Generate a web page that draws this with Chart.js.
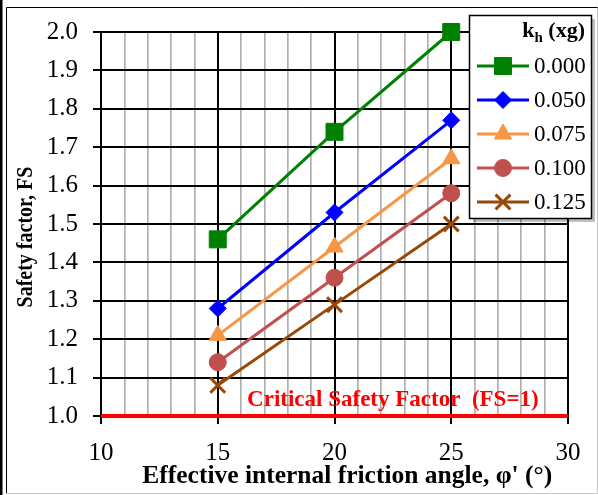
<!DOCTYPE html>
<html>
<head>
<meta charset="utf-8">
<script src="https://cdn.jsdelivr.net/npm/chart.js@4.4.1/dist/chart.umd.min.js"></script>
<style>
  html, body { margin: 0; padding: 0; background: #fff; }
  #wrap { width: 598px; height: 495px; position: relative; }
</style>
</head>
<body>
<div id="wrap"><canvas id="fsChart" width="598" height="495"></canvas></div>
<script>
// friction angle (deg) on x, safety factor on y
const frictionAngles = [15, 20, 25];
const khLabels = ['0.000', '0.050', '0.075', '0.100', '0.125'];
const fsKh000 = [1.46, 1.74, 2.00];
const fsKh050 = [1.28, 1.53, 1.77];
const fsKh075 = [1.21, 1.44, 1.67];
const fsKh100 = [1.14, 1.36, 1.58];
const fsKh125 = [1.08, 1.29, 1.50];
const criticalX = [10, 30];
const criticalY = [1.0, 1.0];
const xTicks = [10, 15, 20, 25, 30];

const seriesValues = [fsKh000, fsKh050, fsKh075, fsKh100, fsKh125];
const seriesColors = ['#008000', '#0000FF', '#F79646', '#C0504D', '#984807'];
const seriesPoints = [
    { style: 'rect', radius: 12 },
    { style: 'rectRot', radius: 8.5 },
    { style: 'triangle', radius: 10 },
    { style: 'circle', radius: 8.5 },
    { style: 'crossRot', radius: 10.5 }
];

const toXY = (xs, ys) => xs.map((x, i) => ({ x: x, y: ys[i] }));

const datasets = seriesValues.map((vals, i) => ({
    label: khLabels[i],
    data: toXY(frictionAngles, vals),
    borderColor: seriesColors[i],
    backgroundColor: seriesColors[i],
    borderWidth: 3,
    pointStyle: seriesPoints[i].style,
    pointRadius: seriesPoints[i].radius,
    pointBorderWidth: seriesPoints[i].style === 'crossRot' ? 3 : 1,
    pointHoverRadius: seriesPoints[i].radius,
    clip: false,
    order: 1
}));

datasets.unshift({
    label: 'critical',
    data: toXY(criticalX, criticalY),
    borderColor: '#FF0000',
    borderWidth: 4,
    pointRadius: 0,
    clip: false,
    order: 2
});

Chart.defaults.font.family = "'Liberation Serif', 'Times New Roman', serif";
Chart.defaults.color = '#000';

const framePlugin = {
    id: 'frame',
    beforeDraw(chart) {
        const c = chart.ctx;
        c.save();
        c.fillStyle = '#fff';
        c.fillRect(0, 0, chart.width, chart.height);
        c.fillStyle = '#000';
        c.fillRect(0, 0, 2.5, chart.height);
        c.lineWidth = 1;
        c.strokeStyle = '#000';
        c.beginPath();
        c.moveTo(6.5, 493);
        c.lineTo(6.5, 7.5);
        c.lineTo(598, 7.5);
        c.stroke();
        c.strokeStyle = '#c8c8c8';
        c.beginPath();
        c.moveTo(6.5, 493.5);
        c.lineTo(597.5, 493.5);
        c.lineTo(597.5, 7.5);
        c.stroke();
        c.restore();
    }
};

// y axis title, drawn a little below the plot centre as in the original
const yTitlePlugin = {
    id: 'yTitle',
    afterDraw(chart) {
        const c = chart.ctx;
        const a = chart.chartArea;
        c.save();
        c.translate(26, (a.top + a.bottom) / 2 + 13);
        c.rotate(-Math.PI / 2);
        c.scale(1, 1.12);
        c.font = "bold 20px 'Liberation Serif'";
        c.fillStyle = '#000';
        c.textAlign = 'center';
        c.textBaseline = 'middle';
        c.fillText('Safety factor, FS', 0, 0);
        c.restore();
    }
};

const criticalLabelPlugin = {
    id: 'criticalLabel',
    afterDatasetsDraw(chart) {
        const c = chart.ctx;
        const xs = chart.scales.x, ys = chart.scales.y;
        c.save();
        c.font = "bold 23px 'Liberation Serif'";
        c.fillStyle = '#FF0000';
        c.textAlign = 'center';
        c.textBaseline = 'alphabetic';
        c.fillText('Critical Safety Factor  (FS=1)', xs.getPixelForValue(22.5), ys.getPixelForValue(1.0) - 10);
        c.restore();
    }
};

const legendPlugin = {
    id: 'boxLegend',
    afterDraw(chart) {
        const c = chart.ctx;
        const bx = 469, by = 15, bw = 122, bh = 203;
        c.save();
        c.fillStyle = 'rgba(0,0,0,0.25)';
        c.fillRect(bx + 4, by + 4, bw, bh);
        c.fillStyle = '#fff';
        c.fillRect(bx, by, bw, bh);
        c.strokeStyle = '#000';
        c.lineWidth = 1.5;
        c.strokeRect(bx + 0.5, by + 0.5, bw, bh);

        // title k_h (xg), right aligned
        c.fillStyle = '#000';
        c.textBaseline = 'alphabetic';
        c.textAlign = 'left';
        const right = 585;
        c.font = "bold 22px 'Liberation Serif'";
        const wTail = c.measureText(' (xg)').width;
        const wK = c.measureText('k').width;
        c.font = "bold 15px 'Liberation Serif'";
        const wH = c.measureText('h').width;
        let tx = right - wTail - wH - wK;
        c.font = "bold 22px 'Liberation Serif'";
        c.fillText('k', tx, 37);
        c.font = "bold 15px 'Liberation Serif'";
        c.fillText('h', tx + wK, 42);
        c.font = "bold 22px 'Liberation Serif'";
        c.fillText(' (xg)', tx + wK + wH, 37);

        const items = chart.data.datasets.filter(d => d.label !== 'critical');
        c.font = "23px 'Liberation Serif'";
        c.textBaseline = 'middle';
        items.forEach((d, i) => {
            const y = 66 + i * 34;
            c.strokeStyle = d.borderColor;
            c.fillStyle = d.backgroundColor;
            c.lineWidth = 3;
            c.beginPath();
            c.moveTo(477, y);
            c.lineTo(529, y);
            c.stroke();
            c.lineWidth = d.pointBorderWidth;
            Chart.helpers.drawPoint(c, {
                pointStyle: d.pointStyle,
                radius: d.pointRadius,
                borderWidth: d.pointBorderWidth,
                rotation: 0
            }, 503, y);
            c.fillStyle = '#000';
            c.fillText(d.label, 534, y + 1);
        });
        c.restore();
    }
};

new Chart(document.getElementById('fsChart'), {
    type: 'line',
    data: { datasets: datasets },
    options: {
        responsive: false,
        animation: false,
        layout: { padding: { left: 8, right: 30, top: 32, bottom: 0 } },
        plugins: {
            legend: { display: false },
            tooltip: { enabled: false }
        },
        scales: {
            x: {
                type: 'linear',
                min: 10,
                max: 30,
                afterFit: s => { s.height = 79; },
                ticks: {
                    stepSize: 1,
                    autoSkip: false,
                    maxRotation: 0,
                    padding: 14,
                    font: { size: 25 },
                    callback: v => (xTicks.includes(v) ? String(v) : '')
                },
                grid: {
                    color: ctx => (ctx.tick && ctx.tick.value % 5 === 0 ? '#000' : '#b0b0b0'),
                    lineWidth: ctx => (ctx.tick && ctx.tick.value % 5 === 0 ? 2 : 1.7),
                    tickColor: ctx => (ctx.tick && ctx.tick.value % 5 === 0 ? '#000' : 'rgba(0,0,0,0)'),
                    tickLength: 8
                },
                border: { color: '#000', width: 2 },
                title: {
                    display: true,
                    text: '    Effective internal friction angle, \u03c6\' (\u00b0)',
                    font: { size: 25.5, weight: 'bold' },
                    padding: { top: 0, bottom: 3 }
                }
            },
            y: {
                min: 1.0,
                max: 2.0,
                afterFit: s => { s.width = 93; },
                ticks: {
                    stepSize: 0.1,
                    padding: 15,
                    font: { size: 25 },
                    callback: v => Number(v).toFixed(1)
                },
                grid: { color: '#000', lineWidth: 2, tickLength: 8 },
                border: { color: '#000', width: 2 },
                title: { display: false }
            }
        }
    },
    plugins: [framePlugin, yTitlePlugin, criticalLabelPlugin, legendPlugin]
});
</script>
</body>
</html>
